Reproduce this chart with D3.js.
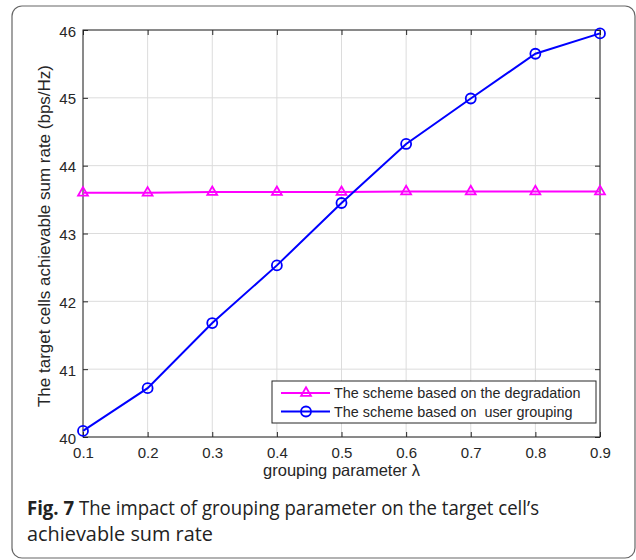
<!DOCTYPE html>
<html>
<head>
<meta charset="utf-8">
<script src="https://cdn.jsdelivr.net/npm/d3@7"></script>
<style>
  body { margin: 0; background: #fff; }
  svg { display: block; }
</style>
</head>
<body>
<div id="chart"></div>
<script>
// data
const lambdas = [0.1, 0.2, 0.3, 0.4, 0.5, 0.6, 0.7, 0.8, 0.9];
const degradationRate = [43.60, 43.60, 43.61, 43.61, 43.61, 43.62, 43.62, 43.62, 43.62];
const groupingRate = [40.09, 40.72, 41.68, 42.53, 43.45, 44.32, 44.99, 45.65, 45.95];
const xTicks = [0.1, 0.2, 0.3, 0.4, 0.5, 0.6, 0.7, 0.8, 0.9];
const yTicks = [40, 41, 42, 43, 44, 45, 46];
const legendLabels = ["The scheme based on the degradation", "The scheme based on  user grouping"];

const W = 636, H = 560;
const plot = { left: 83, right: 600, top: 30, bottom: 437 };

const svg = d3.select("#chart").append("svg")
  .attr("width", W).attr("height", H);

// card border
svg.append("rect")
  .attr("x", 12).attr("y", 6)
  .attr("width", 623).attr("height", 552)
  .attr("rx", 10).attr("ry", 10)
  .attr("fill", "#fff")
  .attr("stroke", "#666").attr("stroke-width", 1.2);

const x = d3.scaleLinear().domain([0.1, 0.9]).range([plot.left, plot.right]);
const y = d3.scaleLinear().domain([40, 46]).range([plot.bottom, plot.top]);

const g = svg.append("g");

// grid
g.selectAll(".vgrid").data(xTicks).enter().append("line")
  .attr("x1", d => x(d)).attr("x2", d => x(d))
  .attr("y1", plot.top).attr("y2", plot.bottom)
  .attr("stroke", "#dcdcdc").attr("stroke-width", 1);
g.selectAll(".hgrid").data(yTicks).enter().append("line")
  .attr("x1", plot.left).attr("x2", plot.right)
  .attr("y1", d => y(d)).attr("y2", d => y(d))
  .attr("stroke", "#dcdcdc").attr("stroke-width", 1);

// axes (MATLAB style, ticks pointing inward)
const axisFont = "'Liberation Sans', Arial, sans-serif";
function styleAxis(sel) {
  sel.select(".domain").remove();
  sel.selectAll(".tick line").attr("stroke", "#262626");
  sel.selectAll(".tick text").attr("fill", "#262626")
    .style("font-family", axisFont).style("font-size", "15px");
}
svg.append("g").attr("transform", `translate(0,${plot.bottom})`)
  .call(d3.axisBottom(x).tickValues(xTicks).tickFormat(d3.format(".1f")).tickSizeInner(-5).tickPadding(10))
  .call(styleAxis);
svg.append("g").attr("transform", `translate(0,${plot.top})`)
  .call(d3.axisTop(x).tickValues(xTicks).tickFormat("").tickSizeInner(-5))
  .call(styleAxis);
svg.append("g").attr("transform", `translate(${plot.left},0)`)
  .call(d3.axisLeft(y).tickValues(yTicks).tickFormat(d3.format("d")).tickSizeInner(-5).tickPadding(7))
  .call(styleAxis)
  .selectAll(".tick text").attr("dy", "0.4em");
svg.append("g").attr("transform", `translate(${plot.right},0)`)
  .call(d3.axisRight(y).tickValues(yTicks).tickFormat("").tickSizeInner(-5))
  .call(styleAxis);

// frame
svg.append("rect")
  .attr("x", plot.left).attr("y", plot.top)
  .attr("width", plot.right - plot.left).attr("height", plot.bottom - plot.top)
  .attr("fill", "none").attr("stroke", "#262626").attr("stroke-width", 1);

// axis titles
svg.append("text")
  .attr("x", (plot.left + plot.right) / 2).attr("y", 476)
  .attr("text-anchor", "middle")
  .style("font-family", axisFont).style("font-size", "16.5px").attr("fill", "#262626")
  .text("grouping parameter λ");
svg.append("text")
  .attr("transform", `translate(50,236) rotate(-90)`)
  .attr("text-anchor", "middle")
  .style("font-family", axisFont).style("font-size", "17px").attr("fill", "#262626")
  .text("The target cells achievable sum rate (bps/Hz)");

// series
const line = d3.line().x((d, i) => x(lambdas[i])).y(d => y(d));
const magenta = "#ff00ff", blue = "#0000ff";
const triangle = d3.symbol().type(d3.symbolTriangle).size(42);

svg.append("path").datum(degradationRate)
  .attr("d", line).attr("fill", "none")
  .attr("stroke", magenta).attr("stroke-width", 2);
svg.selectAll(".tri").data(degradationRate).enter().append("path")
  .attr("d", triangle)
  .attr("transform", (d, i) => `translate(${x(lambdas[i])},${y(d)})`)
  .attr("fill", "none").attr("stroke", magenta).attr("stroke-width", 1.8);

svg.append("path").datum(groupingRate)
  .attr("d", line).attr("fill", "none")
  .attr("stroke", blue).attr("stroke-width", 2);
svg.selectAll(".circ").data(groupingRate).enter().append("circle")
  .attr("cx", (d, i) => x(lambdas[i])).attr("cy", d => y(d))
  .attr("r", 5)
  .attr("fill", "none").attr("stroke", blue).attr("stroke-width", 1.8);

// legend
const lg = svg.append("g").attr("transform", "translate(272,381)");
lg.append("rect").attr("width", 324).attr("height", 42)
  .attr("fill", "#fff").attr("stroke", "#262626").attr("stroke-width", 1);
const legendColors = [magenta, blue];
legendLabels.forEach((label, i) => {
  const ly = 12 + i * 18.5;
  lg.append("line").attr("x1", 9).attr("x2", 58).attr("y1", ly).attr("y2", ly)
    .attr("stroke", legendColors[i]).attr("stroke-width", 2);
  if (i === 0) {
    lg.append("path").attr("d", triangle).attr("transform", `translate(34,${ly})`)
      .attr("fill", "none").attr("stroke", magenta).attr("stroke-width", 1.8);
  } else {
    lg.append("circle").attr("cx", 34).attr("cy", ly).attr("r", 5)
      .attr("fill", "none").attr("stroke", blue).attr("stroke-width", 1.8);
  }
  lg.append("text").attr("x", 62).attr("y", ly + 5)
    .style("font-family", axisFont).style("font-size", "14.4px").attr("fill", "#262626")
    .style("white-space", "pre")
    .text(label);
});

// caption
const capFont = "'Open Sans', 'Noto Sans', sans-serif";
const cap1 = svg.append("text").attr("x", 27).attr("y", 515)
  .style("font-family", capFont).style("font-size", "19.5px").attr("fill", "#222")
  .attr("textLength", 512).attr("lengthAdjust", "spacingAndGlyphs");
cap1.append("tspan").style("font-weight", "bold").text("Fig. 7");
cap1.append("tspan").text(" The impact of grouping parameter on the target cell’s");
svg.append("text").attr("x", 27).attr("y", 541)
  .style("font-family", capFont).style("font-size", "19.5px").attr("fill", "#222")
  .attr("textLength", 186).attr("lengthAdjust", "spacingAndGlyphs")
  .text("achievable sum rate");
</script>
</body>
</html>
